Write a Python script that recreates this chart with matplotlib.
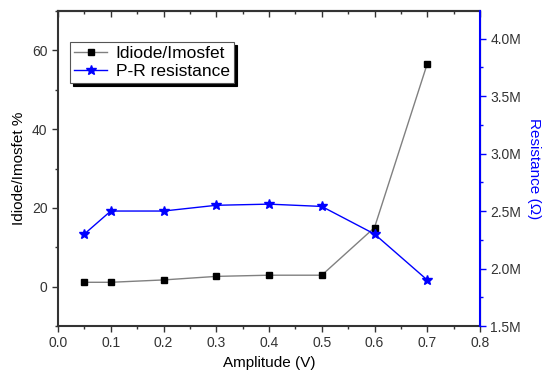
import matplotlib
matplotlib.use('Agg')
from matplotlib import pyplot as plt
from matplotlib.ticker import MultipleLocator, FuncFormatter

plt.rcParams['font.family'] = ['Liberation Sans', 'DejaVu Sans']

amplitude = [0.05, 0.1, 0.2, 0.3, 0.4, 0.5, 0.6, 0.7]
ratio = [1.1, 1.1, 1.7, 2.6, 2.9, 2.9, 15.0, 56.6]
resistance = [2.30e6, 2.50e6, 2.50e6, 2.55e6, 2.56e6, 2.54e6, 2.30e6, 1.90e6]

fig = plt.figure(figsize=(5.5, 3.81), dpi=100)
ax = fig.add_axes([58/550, 1-326/381, (480-58)/550, (326-11)/381])

l1, = ax.plot(amplitude, ratio, color='#808080', lw=1, marker='s', ms=4.5,
              mfc='black', mec='black', label='Idiode/Imosfet')
ax.set_xlim(0, 0.8)
ax.set_ylim(-10, 70)
ax.xaxis.set_major_locator(MultipleLocator(0.1))
ax.xaxis.set_minor_locator(MultipleLocator(0.05))
ax.yaxis.set_major_locator(MultipleLocator(20))
ax.yaxis.set_minor_locator(MultipleLocator(10))
ax.tick_params(which='both', direction='out', labelsize=10, labelcolor='#333333', color='#333333')
ax.tick_params(which='major', length=4, width=1)
ax.tick_params(which='minor', length=2.5, width=1)
ax.xaxis.set_major_formatter(FuncFormatter(lambda v, p: f'{v:.1f}'))
ax.set_xlabel('Amplitude (V)', fontsize=11)
ax.set_ylabel('Idiode/Imosfet %', fontsize=11)
for s in ['left', 'bottom', 'top']:
    ax.spines[s].set_linewidth(1.5)
    ax.spines[s].set_color('#333333')

# top axis: ticks pointing inward, no labels
top = ax.secondary_xaxis('top')
top.xaxis.set_major_locator(MultipleLocator(0.1))
top.xaxis.set_minor_locator(MultipleLocator(0.05))
top.tick_params(which='both', direction='in', labeltop=False, color='#333333')
top.tick_params(which='major', length=4, width=1)
top.tick_params(which='minor', length=2.5, width=1)
top.spines['top'].set_linewidth(1.5)
top.spines['top'].set_color('#333333')

ax2 = ax.twinx()
l2, = ax2.plot(amplitude, resistance, color='blue', lw=1, marker='*', ms=7,
               mfc='blue', mec='blue', label='P-R resistance')
ax2.set_ylim(1.5e6, 4.24e6)
ax2.yaxis.set_major_locator(MultipleLocator(0.5e6))
ax2.yaxis.set_minor_locator(MultipleLocator(0.25e6))
ax2.yaxis.set_major_formatter(FuncFormatter(lambda v, p: f'{v/1e6:.1f}M'))
ax2.tick_params(which='both', direction='out', colors='blue', labelcolor='#333333', labelsize=10)
ax2.tick_params(which='major', length=4, width=1)
ax2.tick_params(which='minor', length=2.5, width=1)
ax2.spines['right'].set_color('blue')
ax2.spines['right'].set_linewidth(1.5)
for s in ['left', 'bottom', 'top']:
    ax2.spines[s].set_visible(False)
ax2.set_ylabel('Resistance (Ω)', fontsize=11, color='blue', rotation=270, labelpad=14)

leg = ax2.legend(handles=[l1, l2], loc='upper left', bbox_to_anchor=(0.028, 0.902),
                 borderaxespad=0, fontsize=12.5, frameon=True, fancybox=False,
                 shadow={'color': 'black', 'alpha': 1}, framealpha=1,
                 borderpad=0.25, handlelength=1.9, handletextpad=0.5, labelspacing=0.15)
leg.get_frame().set_edgecolor('#555555')
leg.get_frame().set_linewidth(0.8)

fig.savefig('out.png', dpi=100)
